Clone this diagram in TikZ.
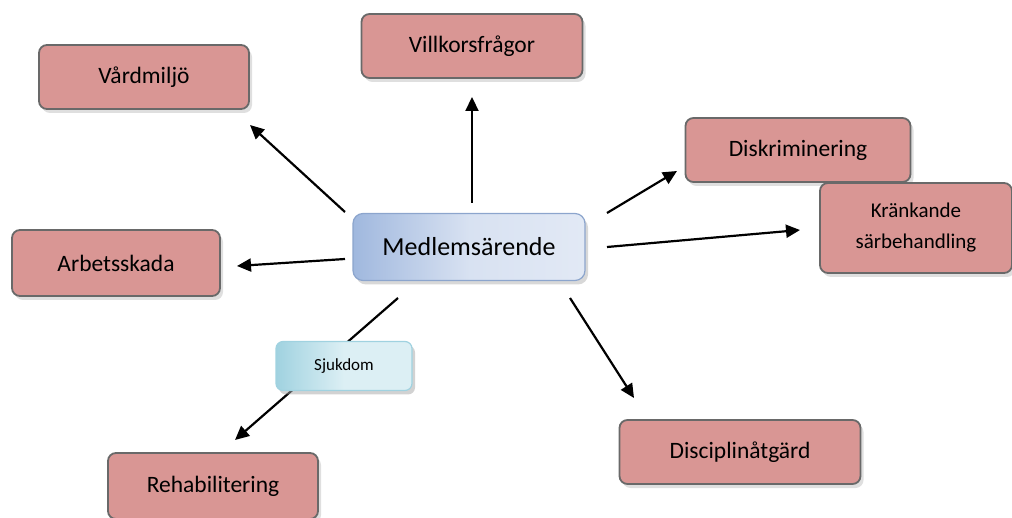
\documentclass[tikz,border=0pt]{standalone}
\usepackage{fontspec}
\setmainfont{Carlito}
\usetikzlibrary{arrows.meta, shadows}
\definecolor{crosa}{RGB}{217,150,148}
\definecolor{cborde}{RGB}{105,105,105}
\definecolor{cazul}{RGB}{160,184,222}
\definecolor{cazulc}{RGB}{226,233,245}
\definecolor{cazulb}{RGB}{140,165,205}
\definecolor{cturq}{RGB}{160,210,224}
\definecolor{cturqc}{RGB}{220,239,244}

\begin{document}
\begin{tikzpicture}[x=1pt, y=-1pt, >={Triangle[length=14pt, width=13pt]},
    tema/.style={draw=cborde, line width=1.8pt, fill=crosa, rounded corners=8pt,
      minimum width=#1, minimum height=64pt, font=\fontsize{23.5}{28}\selectfont,
      drop shadow={shadow xshift=3pt, shadow yshift=-4pt, fill=black!25}},
    flecha/.style={->, line width=2.2pt}]

  \useasboundingbox (0,0) rectangle (1012,518);

  % centre
  \node[draw=cazulb, line width=1.2pt, rounded corners=10pt, left color=cazul, right color=cazulc,
        middle color=cazulc!85!cazul, minimum width=232pt, minimum height=67pt,
        font=\fontsize{26}{30}\selectfont,
        drop shadow={shadow xshift=3pt, shadow yshift=-4pt, fill=black!30}] (med) at (469,247) {Medlemsärende};

  % themes
  \node[tema=221pt] (vill) at (472,46) {Villkorsfrågor};
  \node[tema=210pt] (vard) at (144,77) {Vårdmiljö};
  \node[tema=225pt] (disk) at (798,150) {Diskriminering};
  \node[tema=192pt, minimum height=90pt, align=center, font=\fontsize{21}{31}\selectfont]
        (kran) at (916,228) {Kränkande\\särbehandling};
  \node[tema=208pt, minimum height=66pt] (arb) at (116,263) {Arbetsskada};
  \node[tema=210pt, minimum height=66pt] (rehab) at (213,486) {Rehabilitering};
  \node[tema=241pt] (disc) at (740,452) {Disciplinåtgärd};

  % free ends
  \coordinate (vard-a) at (345,212); \coordinate (vard-b) at (250,125);
  \coordinate (vill-a) at (472,203); \coordinate (vill-b) at (472,97);
  \coordinate (disk-a) at (607,213); \coordinate (disk-b) at (677,171);
  \coordinate (kran-a) at (607,247); \coordinate (kran-b) at (800,230);
  \coordinate (arb-a)  at (345,259); \coordinate (arb-b)  at (237,266);
  \coordinate (disc-a) at (570,298); \coordinate (disc-b) at (634,398);
  \coordinate (rehab-a) at (398,298); \coordinate (rehab-b) at (235,440);

  \foreach \t in {vard,vill,disk,kran,arb,disc,rehab}
    \draw[flecha] (\t-a) -- (\t-b);

  \node[draw=cturq, line width=1.2pt, rounded corners=7pt, left color=cturq, right color=cturqc,
        middle color=cturqc, minimum width=136pt, minimum height=49pt,
        font=\fontsize{17}{20}\selectfont,
        drop shadow={shadow xshift=3pt, shadow yshift=-4pt, fill=black!35}] (sjuk) at (344,366) {Sjukdom};
\end{tikzpicture}
\end{document}
